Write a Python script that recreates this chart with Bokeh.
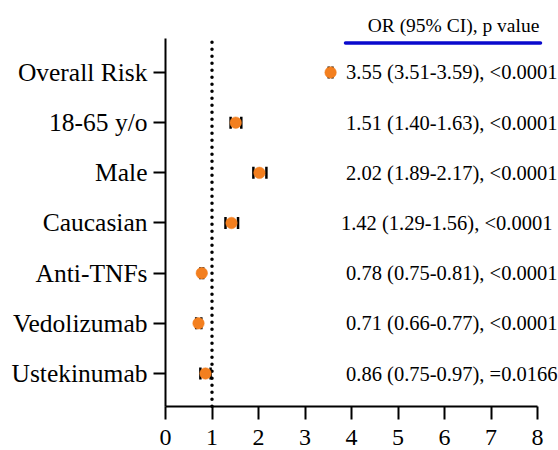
from bokeh.plotting import figure
from bokeh.models import ColumnDataSource, FixedTicker, Range1d, Whisker, TeeHead
from bokeh.core.properties import value
from bokeh.embed import file_html
from bokeh.resources import INLINE

# ---------------- data ----------------
categories = ["Overall Risk", "18-65 y/o", "Male", "Caucasian",
              "Anti-TNFs", "Vedolizumab", "Ustekinumab"]
odds_ratio = [3.55, 1.51, 2.02, 1.42, 0.78, 0.71, 0.86]
ci_lower = [3.51, 1.40, 1.89, 1.29, 0.75, 0.66, 0.75]
ci_upper = [3.59, 1.63, 2.17, 1.56, 0.81, 0.77, 0.97]
annotations = ["3.55 (3.51-3.59), <0.0001",
               "1.51 (1.40-1.63), <0.0001",
               "2.02 (1.89-2.17), <0.0001",
               "1.42 (1.29-1.56),  <0.0001",
               "0.78 (0.75-0.81), <0.0001",
               "0.71 (0.66-0.77), <0.0001",
               "0.86 (0.75-0.97), =0.0166"]
x_ticks = [0, 1, 2, 3, 4, 5, 6, 7, 8]
header = "OR (95% CI), p value"
reference_or = 1

# row positions: top row highest
n = len(categories)
ypos = [n - i for i in range(n)]

FONT = "Liberation Serif"
ORANGE = "#F37F1F"

src = ColumnDataSource(dict(y=ypos, orv=odds_ratio, lo=ci_lower, hi=ci_upper,
                            txt=annotations))

# ---------------- layout ----------------
W, H = 558, 450
origin_px = 165                      # pixel column of x = 0
px_per_x = 46.5
px_per_y = 50.17
x_start = -origin_px / px_per_x      # data area spans the whole canvas
x_end = (W - origin_px) / px_per_x
y_start = 1 - (H - 373) / px_per_y
y_end = y_start + H / px_per_y
axis_base = 1 - (405.7 - 373) / px_per_y    # where the x axis sits
axis_top = n + 34 / px_per_y

p = figure(width=W, height=H, output_backend="svg", toolbar_location=None,
           x_range=Range1d(x_start, x_end), y_range=Range1d(y_start, y_end),
           min_border_left=0, min_border_right=0, min_border_top=0,
           min_border_bottom=0)
p.outline_line_color = None
p.background_fill_color = "white"
p.border_fill_color = "white"
p.grid.visible = False

# x axis
xa = p.xaxis[0]
xa.fixed_location = axis_base
xa.ticker = FixedTicker(ticks=x_ticks)
xa.bounds = (0, 8)
xa.minor_tick_line_color = None
xa.major_tick_in = 0
xa.major_tick_out = 13
xa.major_tick_line_width = 2
xa.axis_line_width = 2
xa.major_label_text_font = FONT
xa.major_label_text_font_size = "24px"
xa.major_label_text_color = "black"
xa.major_label_standoff = 11
xa.axis_line_color = "black"
xa.major_tick_line_color = "black"

# y axis
ya = p.yaxis[0]
ya.fixed_location = 0
ya.ticker = FixedTicker(ticks=ypos)
ya.major_label_overrides = {y: c for y, c in zip(ypos, categories)}
ya.bounds = (axis_base, axis_top)
ya.minor_tick_line_color = None
ya.major_tick_in = 0
ya.major_tick_out = 12
ya.major_tick_line_width = 2
ya.axis_line_width = 2
ya.major_label_text_font = FONT
ya.major_label_text_font_size = "25.5px"
ya.major_label_text_color = "black"
ya.major_label_standoff = 6
ya.axis_line_color = "black"
ya.major_tick_line_color = "black"

# dotted reference line at OR = 1
p.segment(x0=[reference_or], y0=[axis_base], x1=[reference_or], y1=[axis_top + 0.02],
          line_color="black", line_width=3.5, line_dash="0 7", line_cap="round")

# error bars
wh = Whisker(source=src, base="y", lower="lo", upper="hi", dimension="width",
             line_color="black", line_width=2,
             lower_head=TeeHead(size=12, line_color="black", line_width=2.5),
             upper_head=TeeHead(size=12, line_color="black", line_width=2.5))
p.add_layout(wh)

# points
p.scatter(x="orv", y="y", source=src, size=11.5, fill_color=ORANGE,
          line_color=ORANGE, line_width=0.5, level="overlay")

# annotation texts (right aligned)
text_x = (557 - origin_px) / px_per_x
p.text(x=text_x, y="y", text="txt", source=src, text_font=value(FONT),
       text_font_size="20.5px", text_color="black", text_baseline="middle",
       text_align="right")

# header and blue rule
hdr_y = n + (72 - 25) / px_per_y
p.text(x=[(453 - origin_px) / px_per_x], y=[hdr_y], text=[header],
       text_font=value(FONT), text_font_size="19.5px", text_color="black",
       text_baseline="middle", text_align="center")
rule_y = n + (72 - 42.5) / px_per_y
p.segment(x0=[(345 - origin_px) / px_per_x], y0=[rule_y],
          x1=[(540 - origin_px) / px_per_x], y1=[rule_y],
          line_color="#0A0ACD", line_width=3.5, line_cap="round")

open("out.html", "w").write(file_html(p, INLINE))
